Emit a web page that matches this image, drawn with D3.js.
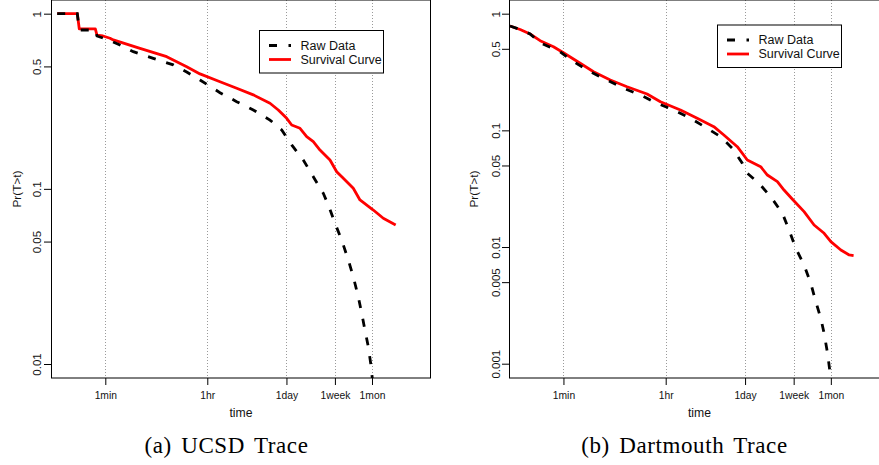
<!DOCTYPE html>
<html>
<head>
<meta charset="utf-8">
<script src="https://cdn.jsdelivr.net/npm/d3@7"></script>
<style>
  html, body { margin: 0; padding: 0; background: #fff; }
  svg { display: block; }
</style>
</head>
<body>
<svg id="chart" width="879" height="465"></svg>
<script>
// Session-length survival: empirical distribution vs. fitted survival curve.
// Time values are in seconds, probabilities are Pr(T > t).

const timeTickValues = [60, 3600, 86400, 604800, 2678400];
const timeTickLabels = ["1min", "1hr", "1day", "1week", "1mon"];

const ucsdProbTicks = [1, 0.5, 0.1, 0.05, 0.01];
const ucsdProbTickLabels = ["1", "0.5", "0.1", "0.05", "0.01"];
const dartProbTicks = [1, 0.5, 0.1, 0.05, 0.01, 0.005, 0.001];
const dartProbTickLabels = ["1", "0.5", "0.1", "0.05", "0.01", "0.005", "0.001"];

const seriesNames = ["Raw Data", "Survival Curve"];
const captions = ["(a) UCSD Trace", "(b) Dartmouth Trace"];

// UCSD trace
const ucsdRawTime = [8.7, 19.5, 21.1, 40.2, 43.0, 63.5, 108.3, 184.6, 412, 920, 1575, 2687, 5998,
  11720, 22830, 44620, 71400, 106600, 169900, 253900, 379300, 463400, 606400, 793700,
  1034000, 1264000, 1545000, 1771000, 2022000, 2309000, 2542000, 2733000];
const ucsdRawProb = [1, 1, 0.807, 0.807, 0.746, 0.714, 0.663, 0.607, 0.556, 0.510, 0.465, 0.418, 0.354,
  0.3146, 0.282, 0.247, 0.2168, 0.178, 0.1462, 0.1173, 0.0943, 0.0809, 0.0636, 0.0510,
  0.0393, 0.0315, 0.0242, 0.0195, 0.0156, 0.01256, 0.01009, 0.0081];

const ucsdFitTime = [8.7, 19.5, 21.1, 40.2, 43.0, 54.7, 72.5, 82.7, 241.6, 706, 1575, 2687, 5998,
  11720, 22830, 44620, 62280, 87240, 106600, 148800, 194800, 253900, 332100, 496300,
  649300, 846500, 1264000, 1654000, 2822000, 4214000, 6934000];
const ucsdFitProb = [1, 1, 0.82, 0.82, 0.753, 0.746, 0.724, 0.708, 0.634, 0.568, 0.498, 0.453, 0.409,
  0.375, 0.344, 0.308, 0.282, 0.2528, 0.2314, 0.2217, 0.1985, 0.1858, 0.1666, 0.1462,
  0.1253, 0.1149, 0.1007, 0.0864, 0.0757, 0.0679, 0.0622];

// Dartmouth trace
const dartRawTime = [7.06, 10.6, 15.8, 23.6, 52.6, 89.7, 175.3, 342.6, 667.1, 1304, 2550, 4965, 9707,
  18970, 32370, 51760, 77330, 94540, 150600, 240900, 385300, 502300, 657200, 917100,
  1200000, 1467000, 1792000, 2047000, 2346000, 2604000, 2734000];
const dartRawProb = [0.785, 0.732, 0.670, 0.564, 0.472, 0.388, 0.318, 0.270, 0.2294, 0.2010, 0.1706,
  0.1495, 0.1269, 0.1041, 0.0883, 0.0702, 0.0522, 0.0429, 0.0352, 0.0270, 0.01946, 0.0140,
  0.00976, 0.00702, 0.00489, 0.00340, 0.00245, 0.00182, 0.00123, 0.00083, 0.00066];

const dartFitTime = [7.06, 10.6, 15.8, 23.6, 40.2, 60, 117.3, 200.1, 391.1, 764.6, 1707, 2912, 6497,
  12700, 24740, 36950, 63280, 94540, 161300, 211000, 315200, 411000, 575600, 917100,
  1370000, 2047000, 2679000, 4001000, 5583000, 6662000];
const dartFitProb = [0.785, 0.732, 0.670, 0.587, 0.521, 0.463, 0.376, 0.318, 0.270, 0.2367, 0.2050,
  0.1761, 0.1495, 0.1269, 0.1075, 0.0913, 0.0724, 0.0557, 0.0488, 0.0414, 0.0363, 0.0308,
  0.0257, 0.0201, 0.01545, 0.01312, 0.01111, 0.00943, 0.00855, 0.00844];

const svg = d3.select("#chart");
const sans = "'Liberation Sans', Arial, Helvetica, sans-serif";
const serif = "'Liberation Serif', 'Times New Roman', serif";

const zip = (ts, ps) => ts.map((t, i) => ({ t, p: ps[i] }));

const panels = [
  {
    id: "ucsd", left: 51.5, right: 430.5, top: 0, bottom: 378,
    yDomain: [0.00832, 1.197],
    probTicks: ucsdProbTicks, probLabels: ucsdProbTickLabels,
    raw: zip(ucsdRawTime, ucsdRawProb), fit: zip(ucsdFitTime, ucsdFitProb),
    legend: { x: 259.5, y: 30.5, w: 124, h: 42.5 },
    ylabX: 20.7, ytextOff: 10.5,
    caption: captions[0], capX: 226.5
  },
  {
    id: "dart", left: 509.5, right: 889.5, top: 0, bottom: 378,
    yDomain: [0.000754, 1.310],
    probTicks: dartProbTicks, probLabels: dartProbTickLabels,
    raw: zip(dartRawTime, dartRawProb), fit: zip(dartFitTime, dartFitProb),
    legend: { x: 717.5, y: 25, w: 124, h: 42.5 },
    ylabX: 478.3, ytextOff: 9.5,
    caption: captions[1], capX: 684.5
  }
];

panels.forEach(P => {
  const x = d3.scaleLog().domain([6.92, 2.806e7]).range([P.left, P.right]);
  const y = d3.scaleLog().domain(P.yDomain).range([P.bottom, P.top]);
  const g = svg.append("g");

  // clip region for the curves
  const clipId = "clip-" + P.id;
  svg.append("clipPath").attr("id", clipId)
    .append("rect")
    .attr("x", P.left).attr("y", P.top)
    .attr("width", P.right - P.left).attr("height", P.bottom - P.top);

  // dotted vertical reference lines at the time marks
  g.append("g").selectAll("line")
    .data(timeTickValues)
    .join("line")
    .attr("x1", d => Math.round(x(d)) + 0.5).attr("x2", d => Math.round(x(d)) + 0.5)
    .attr("y1", P.top).attr("y2", P.bottom)
    .attr("stroke", "#9a9a9a").attr("stroke-width", 1)
    .attr("stroke-dasharray", "1,2");

  // curves
  const line = d3.line().x(d => x(d.t)).y(d => y(d.p));
  const curves = g.append("g").attr("clip-path", `url(#${clipId})`);
  curves.append("path").datum(P.fit)
    .attr("d", line).attr("fill", "none")
    .attr("stroke", "#ff0000").attr("stroke-width", 2.8)
    .attr("stroke-linejoin", "round");
  curves.append("path").datum(P.raw)
    .attr("d", line).attr("fill", "none")
    .attr("stroke", "#000").attr("stroke-width", 2.8)
    .attr("stroke-dasharray", "8,11");

  // frame
  g.append("rect")
    .attr("x", P.left).attr("y", P.top)
    .attr("width", P.right - P.left).attr("height", P.bottom - P.top)
    .attr("fill", "none").attr("stroke", "#000").attr("stroke-width", 1);

  // x axis
  const xAxis = d3.axisBottom(x)
    .tickValues(timeTickValues)
    .tickFormat((d, i) => timeTickLabels[i])
    .tickSize(7).tickPadding(0);
  const xa = g.append("g").attr("transform", `translate(0,${P.bottom})`).call(xAxis);
  xa.select(".domain").remove();
  xa.selectAll(".tick line").attr("stroke", "#000");
  xa.selectAll(".tick text")
    .attr("y", 21).attr("dy", 0)
    .attr("font-family", sans).attr("font-size", "10.3px").attr("fill", "#111");

  // y axis
  const yAxis = d3.axisLeft(y)
    .tickValues(P.probTicks)
    .tickFormat((d, i) => P.probLabels[i])
    .tickSize(7);
  const ya = g.append("g").attr("transform", `translate(${P.left - 0.5},0)`).call(yAxis);
  ya.select(".domain").remove();
  ya.selectAll(".tick line").attr("stroke", "#000");
  ya.selectAll(".tick text")
    .attr("transform", "rotate(-90)")
    .attr("x", 0).attr("y", -P.ytextOff).attr("dy", 0)
    .attr("text-anchor", "middle")
    .attr("font-family", sans).attr("font-size", "11.5px").attr("fill", "#111");

  // axis titles
  const cx = (P.left + P.right) / 2;
  g.append("text")
    .attr("x", cx).attr("y", 417)
    .attr("text-anchor", "middle")
    .attr("font-family", sans).attr("font-size", "12.2px").attr("fill", "#111")
    .text("time");
  g.append("text")
    .attr("transform", `translate(${P.ylabX},${(P.top + P.bottom) / 2}) rotate(-90)`)
    .attr("text-anchor", "middle")
    .attr("font-family", sans).attr("font-size", "11.8px").attr("fill", "#111")
    .text("Pr(T>t)");

  // legend
  const L = P.legend;
  const lg = g.append("g");
  lg.append("rect")
    .attr("x", L.x).attr("y", L.y).attr("width", L.w).attr("height", L.h)
    .attr("fill", "#fff").attr("stroke", "#000").attr("stroke-width", 1);
  const entries = [
    { name: seriesNames[0], color: "#000", dash: "8,11.5" },
    { name: seriesNames[1], color: "#ff0000", dash: null }
  ];
  entries.forEach((e, i) => {
    const ly = L.y + 15 + i * 14;
    lg.append("line")
      .attr("x1", L.x + 9.5).attr("x2", L.x + 31.5)
      .attr("y1", ly).attr("y2", ly)
      .attr("stroke", e.color).attr("stroke-width", 2.8)
      .attr("stroke-dasharray", e.dash);
    lg.append("text")
      .attr("x", L.x + 41).attr("y", ly + 4.3)
      .attr("font-family", sans).attr("font-size", "12.5px").attr("fill", "#111")
      .text(e.name);
  });

  // caption
  svg.append("text")
    .attr("x", P.capX).attr("y", 453)
    .attr("text-anchor", "middle")
    .attr("font-family", serif).attr("font-size", "23px")
    .attr("letter-spacing", "0.6px").attr("word-spacing", "3px").attr("fill", "#000")
    .text(P.caption);
});
</script>
</body>
</html>
